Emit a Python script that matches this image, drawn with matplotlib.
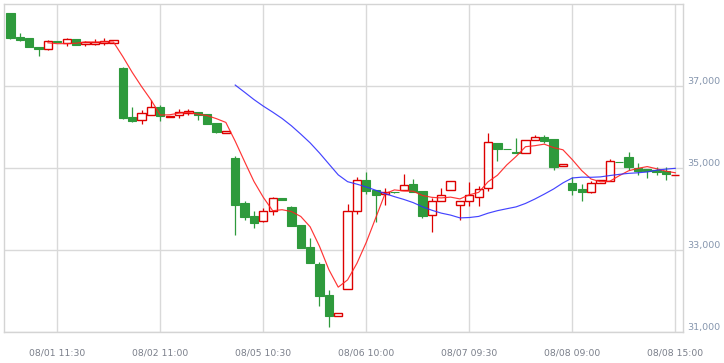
import matplotlib
matplotlib.use("Agg")
import matplotlib.pyplot as plt
from matplotlib.patches import Rectangle
import pandas as pd

days = ["08/01", "08/02", "08/05", "08/06", "08/07", "08/08"]
sessions = ["09:00", "09:30", "10:00", "10:30", "11:00", "11:30",
            "12:30", "13:00", "13:30", "14:00", "14:30", "15:00"]
times = [f"{d} {s}" for d in days for s in sessions]

tick_labels = ["08/01 11:30", "08/02 11:00", "08/05 10:30", "08/06 10:00",
               "08/07 09:30", "08/08 09:00", "08/08 15:00"]
y_ticks = [31000, 33000, 35000, 37000]

opens = [38780, 38195, 38163, 37944, 37910, 38090, 38041, 38146, 38034, 38017, 38058, 38058,
         37439, 36244, 36178, 36300, 36488, 36255, 36300, 36341, 36358, 36310, 36098, 35861,
         35244, 34146, 33829, 33700, 33944, 34268, 34049, 33610, 33073, 32666, 31902, 31398,
         32056, 33959, 34707, 34463, 34359, 34410, 34471, 34610, 34439, 33861, 34188, 34456,
         34105, 34188, 34285, 34505, 35610, 35458, 35390, 35359, 35676, 35763, 35707, 35041,
         34641, 34495, 34422, 34641, 34690, 35150, 35268, 35008, 34968, 34944, 34920, 34826]
highs = [38790, 38285, 38163, 37950, 38122, 38095, 38171, 38150, 38105, 38139, 38171, 38120,
         37463, 36480, 36422, 36666, 36537, 36262, 36446, 36446, 36365, 36315, 36100, 35905,
         35285, 34195, 33944, 34024, 34285, 34270, 34066, 33615, 33300, 32707, 32024, 31456,
         34115, 34780, 34902, 34465, 34512, 34412, 34846, 34732, 34445, 34268, 34512, 34676,
         34195, 34666, 34568, 35846, 35612, 35460, 35724, 35676, 35812, 35798, 35710, 35105,
         34788, 34602, 34676, 34705, 35220, 35152, 35390, 35122, 34975, 35017, 35017, 34836]
lows = [38150, 38105, 37944, 37724, 37871, 38065, 37976, 37993, 37976, 38000, 38007, 38055,
        36202, 36115, 36080, 36295, 36154, 36250, 36227, 36285, 36170, 36075, 35861, 35855,
        33359, 33724, 33529, 33695, 33846, 34228, 33590, 33041, 32680, 31641, 31129, 31398,
        32050, 33871, 34366, 33676, 34098, 34402, 34468, 34410, 33788, 33439, 34185, 34456,
        33739, 34073, 34073, 34439, 35171, 35452, 35368, 35359, 35676, 35602, 34944, 35041,
        34349, 34195, 34383, 34638, 34690, 35138, 34944, 34822, 34756, 34829, 34700, 34824]
closes = [38178, 38130, 37959, 37910, 38090, 38070, 38139, 38007, 38066, 38073, 38098, 38115,
          36227, 36154, 36334, 36480, 36261, 36262, 36358, 36398, 36293, 36080, 35885, 35902,
          34105, 33812, 33659, 33944, 34268, 34230, 33593, 33056, 32683, 31885, 31390, 31456,
          33944, 34707, 34446, 34349, 34422, 34405, 34578, 34415, 33829, 34195, 34334, 34676,
          34195, 34334, 34488, 35627, 35471, 35454, 35370, 35676, 35749, 35659, 35032, 35105,
          34471, 34422, 34627, 34700, 35163, 35140, 35024, 34927, 34920, 34895, 34846, 34832]

df = pd.DataFrame({"open": opens, "high": highs, "low": lows, "close": closes}, index=times)
ma5 = df["close"].rolling(5).mean()
ma25 = df["close"].rolling(25).mean()

UP = "#dd0000"
DOWN = "#2e9a3c"
GRID = "#d9d9d9"

fig = plt.figure(figsize=(7.24, 3.63), dpi=100)
ax = fig.add_axes([4.3 / 724, 31 / 363, (683 - 4.3) / 724, 328 / 363])

xs = list(range(len(times)))
w = 0.88
for x, (o, h, l, c) in zip(xs, df[["open", "high", "low", "close"]].itertuples(index=False)):
    top, bot = max(o, c), min(o, c)
    if c >= o:
        col = UP
        ax.add_patch(Rectangle((x - w / 2, bot), w, top - bot, facecolor="white",
                               edgecolor=col, linewidth=1.0, zorder=3))
    else:
        col = DOWN
        ax.add_patch(Rectangle((x - w / 2, bot), w, top - bot, facecolor=col,
                               edgecolor=col, linewidth=0.8, zorder=3))
    if h > top:
        ax.plot([x, x], [top, h], color=col, lw=0.9, zorder=2.5, solid_capstyle="butt")
    if l < bot:
        ax.plot([x, x], [l, bot], color=col, lw=0.9, zorder=2.5, solid_capstyle="butt")

ax.plot(xs, ma5.values, color="#ff2020", lw=0.85, zorder=4, alpha=0.9)
ax.plot(xs, ma25.values, color="#3030ff", lw=0.85, zorder=4, alpha=0.9)

ax.set_xlim(-0.66, 71.82)
ax.set_ylim(31000, 39000)

tick_pos = [times.index(t) for t in tick_labels]
ax.set_xticks(tick_pos)
ax.set_xticklabels(tick_labels)
ax.set_yticks(y_ticks)
ax.set_yticklabels([f"{v:,}" for v in y_ticks])
ax.yaxis.tick_right()
ax.tick_params(axis="x", length=0, pad=12, labelsize=6.7, labelcolor="#7a7f8a")
ax.tick_params(axis="y", length=0, pad=3, labelsize=6.8, labelcolor="#8595ad")
for lab in ax.get_yticklabels():
    lab.set_verticalalignment("bottom")

ax.grid(True, color=GRID, lw=1.0, zorder=0)
ax.set_axisbelow(True)
for s in ax.spines.values():
    s.set_color("#d4d4d4")
    s.set_linewidth(1.0)

fig.savefig("out.png", dpi=100)
